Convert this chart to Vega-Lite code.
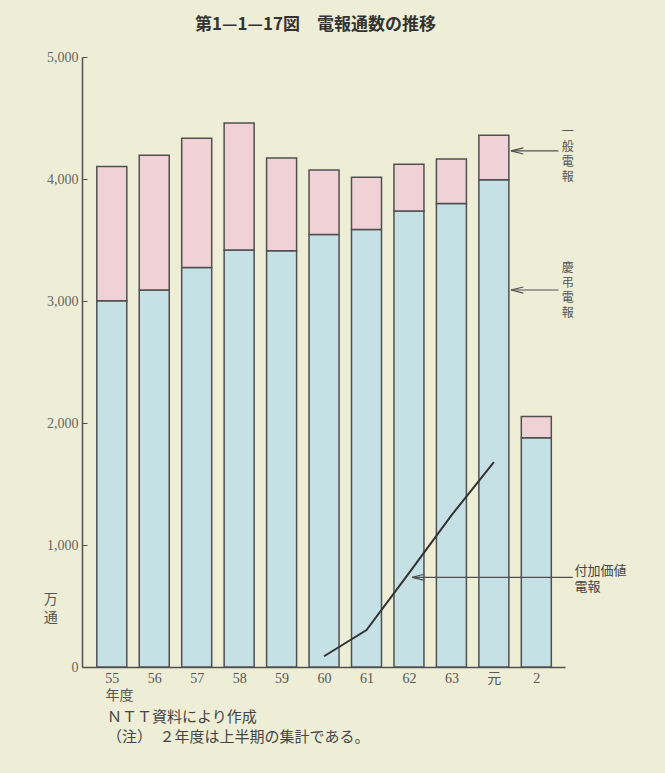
{
  "$schema": "https://vega.github.io/schema/vega-lite/v6.json",
  "width": 483,
  "height": 610,
  "autosize": "none",
  "padding": {"left": 82, "top": 57, "right": 100, "bottom": 106},
  "background": "#eeeed6",
  "config": {"view": {"stroke": null}},
  "title": {
    "text": "第1—1—17図　電報通数の推移",
    "font": "Noto Sans CJK JP",
    "fontSize": 17,
    "fontWeight": "bold",
    "color": "#333333",
    "anchor": "middle",
    "dx": -8,
    "offset": 16
  },
  "datasets": {
    "bars": [
      {"i": 0, "year": "55", "keicho": 3003, "total": 4103},
      {"i": 1, "year": "56", "keicho": 3090, "total": 4195},
      {"i": 2, "year": "57", "keicho": 3275, "total": 4333},
      {"i": 3, "year": "58", "keicho": 3419, "total": 4458},
      {"i": 4, "year": "59", "keicho": 3411, "total": 4173},
      {"i": 5, "year": "60", "keicho": 3546, "total": 4073},
      {"i": 6, "year": "61", "keicho": 3587, "total": 4014},
      {"i": 7, "year": "62", "keicho": 3737, "total": 4120},
      {"i": 8, "year": "63", "keicho": 3799, "total": 4163},
      {"i": 9, "year": "元", "keicho": 3994, "total": 4358},
      {"i": 10, "year": "2", "keicho": 1879, "total": 2054}
    ],
    "line": [
      {"i": 5, "year": "60", "fuka": 88},
      {"i": 6, "year": "61", "fuka": 303},
      {"i": 7, "year": "62", "fuka": 770},
      {"i": 8, "year": "63", "fuka": 1243},
      {"i": 9, "year": "元", "fuka": 1679}
    ],
    "arrows": [
      {"x1": 9.405, "x2": 10.52, "y": 4230},
      {"x1": 9.405, "x2": 10.52, "y": 3090},
      {"x1": 7.075, "x2": 10.86, "y": 735}
    ],
    "vlabels": [
      {"x": 10.74, "y": 4430, "t": "一\n般\n電\n報"},
      {"x": 10.74, "y": 3310, "t": "慶\n弔\n電\n報"}
    ],
    "leftlabels": [
      {"x": 10.9, "y": 838, "t": "付加価値\n電報"}
    ],
    "notes": [
      {"x": -0.11, "y": -408, "t": "ＮＴＴ資料により作成"},
      {"x": -0.11, "y": -570, "t": "（注）　２年度は上半期の集計である。"}
    ],
    "unit": [
      {"x": -1.437, "y": 610, "t": "万\n通"},
      {"x": 0.18, "y": -182, "t": "年度"}
    ]
  },
  "layer": [
    {
      "data": {"name": "bars"},
      "mark": {"type": "bar", "width": 30, "fill": "#c6e1e6", "stroke": "#505050", "strokeWidth": 1.5},
      "encoding": {
        "x": {
          "field": "i", "type": "quantitative",
          "scale": {"domain": [-0.584, 10.558], "nice": false, "zero": false},
          "axis": {
            "title": null,
            "values": [0, 1, 2, 3, 4, 5, 6, 7, 8, 9, 10],
            "labelExpr": "['55','56','57','58','59','60','61','62','63','元','2'][datum.value]",
            "ticks": false,
            "grid": false,
            "labelPadding": 4,
            "labelFont": "'Liberation Serif', 'Noto Sans CJK JP'",
            "labelFontSize": 14,
            "labelColor": "#555555",
            "domainColor": "#505050",
            "domainWidth": 1.5
          }
        },
        "y": {
          "field": "keicho", "type": "quantitative", "stack": null,
          "scale": {"domain": [0, 5000], "nice": false},
          "axis": {
            "title": null,
            "values": [0, 1000, 2000, 3000, 4000, 5000],
            "format": ",d",
            "grid": false,
            "tickSize": -5,
            "tickColor": "#505050",
            "labelPadding": 9,
            "labelFont": "Liberation Serif",
            "labelFontSize": 14,
            "labelColor": "#666666",
            "domainColor": "#505050",
            "domainWidth": 1.5
          }
        }
      }
    },
    {
      "data": {"name": "bars"},
      "mark": {"type": "bar", "width": 30, "fill": "#f0d2d6", "stroke": "#505050", "strokeWidth": 1.5},
      "encoding": {
        "x": {"field": "i", "type": "quantitative"},
        "y": {"field": "keicho", "type": "quantitative", "stack": null},
        "y2": {"field": "total"}
      }
    },
    {
      "data": {"name": "line"},
      "mark": {"type": "line", "color": "#333333", "strokeWidth": 2},
      "encoding": {
        "x": {"field": "i", "type": "quantitative"},
        "y": {"field": "fuka", "type": "quantitative"}
      }
    },
    {
      "data": {"name": "arrows"},
      "mark": {"type": "rule", "color": "#505050", "strokeWidth": 1.2},
      "encoding": {
        "x": {"field": "x1", "type": "quantitative"},
        "x2": {"field": "x2"},
        "y": {"field": "y", "type": "quantitative"}
      }
    },
    {
      "data": {"name": "arrows"},
      "mark": {"type": "point", "shape": "M2,-0.5L0,0L2,0.5", "size": 150, "filled": false, "stroke": "#505050", "strokeWidth": 1.2, "opacity": 1},
      "encoding": {
        "x": {"field": "x1", "type": "quantitative"},
        "y": {"field": "y", "type": "quantitative"}
      }
    },
    {
      "data": {"name": "vlabels"},
      "mark": {"type": "text", "font": "Noto Sans CJK JP", "fontSize": 12, "lineHeight": 15, "lineBreak": "\n", "align": "center", "baseline": "top", "color": "#555555"},
      "encoding": {
        "x": {"field": "x", "type": "quantitative"},
        "y": {"field": "y", "type": "quantitative"},
        "text": {"field": "t"}
      }
    },
    {
      "data": {"name": "leftlabels"},
      "mark": {"type": "text", "font": "Noto Sans CJK JP", "fontSize": 13, "lineHeight": 16, "lineBreak": "\n", "align": "left", "baseline": "top", "color": "#444444"},
      "encoding": {
        "x": {"field": "x", "type": "quantitative"},
        "y": {"field": "y", "type": "quantitative"},
        "text": {"field": "t"}
      }
    },
    {
      "data": {"name": "notes"},
      "mark": {"type": "text", "font": "Noto Sans CJK JP", "fontSize": 15, "align": "left", "baseline": "middle", "color": "#444444"},
      "encoding": {
        "x": {"field": "x", "type": "quantitative"},
        "y": {"field": "y", "type": "quantitative"},
        "text": {"field": "t"}
      }
    },
    {
      "data": {"name": "unit"},
      "mark": {"type": "text", "font": "Noto Sans CJK JP", "fontSize": 14, "lineHeight": 18, "lineBreak": "\n", "align": "center", "baseline": "top", "color": "#555555"},
      "encoding": {
        "x": {"field": "x", "type": "quantitative"},
        "y": {"field": "y", "type": "quantitative"},
        "text": {"field": "t"}
      }
    }
  ]
}
